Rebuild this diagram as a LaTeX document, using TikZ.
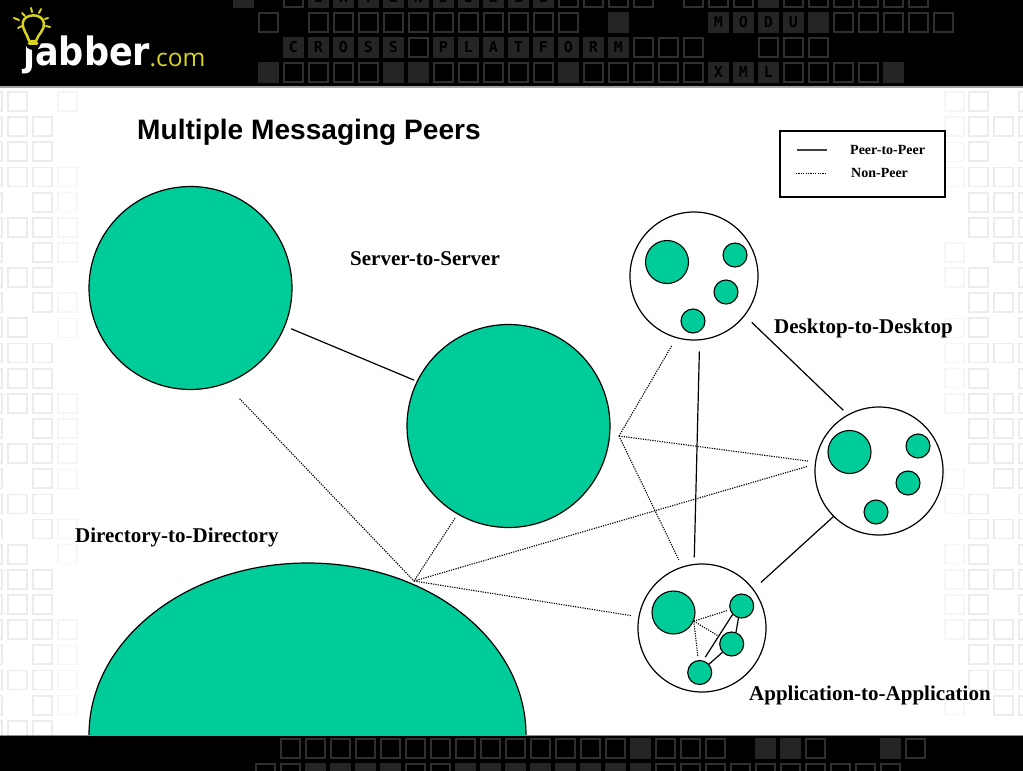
\documentclass[tikz,border=0pt]{standalone}
\usepackage{fontspec}
\setmainfont{Liberation Serif}
\newfontfamily\titlefont{Liberation Sans}
\newfontfamily\logofont[FakeStretch=.9]{DejaVu Sans}
\newfontfamily\logosmall{Open Sans}
\newfontfamily\tilefont{DejaVu Sans Mono}
\usetikzlibrary{shapes.geometric}
\definecolor{teal}{RGB}{0,204,153}
\definecolor{tilegray}{RGB}{47,47,47}
\definecolor{sidegray}{RGB}{236,236,236}
\definecolor{sidefaint}{RGB}{246,246,246}
\definecolor{bulb}{RGB}{216,212,28}
\tikzset{
  bigdisc/.style={circle, draw=black, fill=teal, line width=1.2pt, inner sep=0pt, minimum size=203pt},
  room/.style={circle, draw=black, fill=white, line width=1.2pt, inner sep=0pt, minimum size=128pt},
  midpeer/.style={circle, draw=black, fill=teal, line width=1.1pt, inner sep=0pt, minimum size=43pt},
  smallpeer/.style={circle, draw=black, fill=teal, line width=1.1pt, inner sep=0pt, minimum size=24pt},
  peer/.style={draw=black, line width=1.2pt},
  nonpeer/.style={draw=black, line width=1.1pt, dash pattern=on 1.2pt off 1.2pt},
  grouplabel/.style={font=\bfseries\fontsize{21}{24}\selectfont, inner sep=0pt},
  keylabel/.style={font=\bfseries\fontsize{14}{16}\selectfont, inner sep=0pt},
  tileopen/.style={draw=tilegray, line width=1.8pt},
  tileshut/.style={fill=tilegray!105!white},
  tileletter/.style={font=\tilefont\bfseries\fontsize{15}{15}\selectfont, text=black, inner sep=0pt},
}
\newcommand{\hdropen}[2]{\foreach \k in {#2} \draw[tileopen] (259+25*\k,#1) rectangle ++(19,19);}
\newcommand{\hdrshut}[2]{\foreach \k in {#2} \fill[tileshut] (258+25*\k,#1-1) rectangle ++(21,21);}
\newcommand{\ftropen}[2]{\foreach \k in {#2} \draw[tileopen] (256+25*\k,#1) rectangle ++(19,19);}
\newcommand{\ftrshut}[2]{\foreach \k in {#2} \fill[tileshut] (255+25*\k,#1-1) rectangle ++(21,21);}

\begin{document}
\begin{tikzpicture}[x=1pt, y=-1pt]
    \useasboundingbox (0,0) rectangle (1023,771);
    \fill[white] (0,0) rectangle (1023,771);

    % Side tiles
    \foreach \r/\cols in {0/{-17,8},1/{-17,8,33},2/{-17,8,33},3/{-17,8,33},4/{-17,33},5/{-17,8,33},6/{-17,33},
        7/{-17,8,33},8/{-17,33},9/{-17,8},10/{-17,8,33},11/{-17,8,33},12/{-17,8,33},13/{-17,33},14/{-17,8,33},
        15/{-17,33},16/{-17,8,33},17/{-17,33},18/{-17,8},19/{-17,8,33},20/{-17,8,33},21/{-17,8,33},22/{-17,33},
        23/{-17,8,33},24/{-17,33},25/{-17,8,33}}
        \foreach \c in \cols \draw[sidegray, line width=1.8pt] (\c,92+25.15*\r) rectangle ++(19,19);
    \foreach \r in {0,3,4,5,6,8,9,12,13,14,15,17,18,21,22,23,24}
        \draw[sidefaint, line width=1.5pt] (58,92+25.15*\r) rectangle ++(19,19);
    \foreach \r/\cols in {0/{969,1019},1/{969,994,1019},2/{969,1019},3/{969,994,1019},4/{969,994,1019},
        5/{969,994,1019},6/{994,1019},7/{969,1019},8/{969,994,1019},9/{969,1019},10/{969,994,1019},11/{969,1019},
        12/{969,994,1019},13/{969,994,1019},14/{969,994,1019},15/{994,1019},16/{969,1019},17/{969,994,1019},
        18/{969,1019},19/{969,994,1019},20/{969,1019},21/{969,994,1019},22/{969,994,1019},23/{969,994,1019},24/{994,1019}}
        \foreach \c in \cols \draw[sidegray, line width=1.8pt] (\c,92+25.15*\r) rectangle ++(19,19);
    \foreach \r in {0,1,2,3,6,7,9,10,11,12,15,16,18,19,20,21,24}
        \draw[sidefaint, line width=1.5pt] (945,92+25.15*\r) rectangle ++(19,19);

    % Header band
    \fill[black] (0,0) rectangle (1023,86);
    \fill[black!35] (0,86) rectangle (1023,87.5);
    \hdrshut{-12}{-1,2,3,4,5,6,7,8,9,10,11,20}
    \hdropen{-12}{1,12,13,14,15,17,18,19,21,22,23,24,25,26}
    \hdropen{13}{0,2,3,4,5,6,7,8,9,10,11,12,23,24,25,26,27}
    \hdrshut{13}{14,18,19,20,21,22}
    \hdrshut{38}{1,2,3,4,5,7,8,9,10,11,12,13,14}
    \hdropen{38}{6,15,16,17,20,21,22}
    \hdrshut{63}{0,5,6,12,18,19,20,25}
    \hdropen{63}{1,2,3,4,7,8,9,10,11,13,14,15,16,17,21,22,23,24}
    \foreach \k/\ch in {2/E,3/X,4/T,5/E,6/N,7/S,8/I,9/B,10/L,11/E}
        \node[tileletter] (top\k) at (268.5+25*\k,-2.5) {\ch};
    \foreach \k/\ch in {18/M,19/O,20/D,21/U}
        \node[tileletter] (mod\k) at (268.5+25*\k,22.5) {\ch};
    \foreach \k/\ch in {1/C,2/R,3/O,4/S,5/S,7/P,8/L,9/A,10/T,11/F,12/O,13/R,14/M}
        \node[tileletter] (cross\k) at (268.5+25*\k,47.5) {\ch};
    \foreach \k/\ch in {18/X,19/M,20/L}
        \node[tileletter] (xml\k) at (268.5+25*\k,72.5) {\ch};

    % Logo
    \node[anchor=base west, inner sep=0pt, text=white, font=\logofont\bfseries\fontsize{39}{39}\selectfont] (logoname) at (23,65.5) {jabber};
    \node[anchor=base west, inner sep=0pt, text=bulb, font=\logosmall\fontsize{24.5}{25}\selectfont] (logodom) at (149.5,66.5) {.com};
    \fill[black] (33,42) circle (8);
    \draw[bulb, line width=2.5pt, line join=round] (29,41) .. controls (27,33) and (22,30) .. (23,22)
        .. controls (24,14) and (42,12) .. (44,23) .. controls (45,30) and (38,34) .. (36,41) -- cycle;
    \draw[bulb, line width=3pt, line cap=round] (29,43) -- (37,43);
    \foreach \xa/\ya/\xb/\yb in {31/8/32/12, 41/9/39/13, 48/18/45/19, 50/27/46/26, 14/18/19/20, 18/28/22/26, 22/13/25/16}
        \draw[bulb, line width=2pt, line cap=round] (\xa,\ya) -- (\xb,\yb);

    % Title and legend
    \node[anchor=base west, inner sep=0pt, font=\titlefont\bfseries\fontsize{28.1}{30}\selectfont] (title) at (137,139) {Multiple Messaging Peers};
    \node[draw=black, fill=white, line width=1.3pt, inner sep=0pt, minimum width=165pt, minimum height=66pt] (legend) at (862.5,164) {};
    \coordinate (keyA) at (797,150);
    \coordinate (keyB) at (827,150);
    \coordinate (keyC) at (796,173);
    \coordinate (keyD) at (827,173);
    \draw[peer, black!75] (keyA) -- (keyB);
    \draw[nonpeer, line width=.8pt] (keyC) -- (keyD);
    \node[keylabel, anchor=west] (peerkey) at (850,150) {Peer-to-Peer};
    \node[keylabel, anchor=west] (nonkey) at (851,173) {Non-Peer};

    % Directory and server discs
    \node[bigdisc] (srvA) at (190.5,288) {};
    \node[bigdisc] (srvB) at (508.5,426) {};
    \begin{scope}
        \clip (0,87) rectangle (1023,735);
        \node[ellipse, draw=black, fill=teal, line width=1.2pt, inner sep=0pt, minimum width=437pt, minimum height=344pt] (dirB) at (307.5,735) {};
    \end{scope}

    % Desktop rooms
    \node[room] (deskA) at (694,276) {};
    \node[midpeer] (deskAm) at (667,262) {};
    \node[smallpeer] (deskAa) at (735,255) {};
    \node[smallpeer] (deskAb) at (726,292) {};
    \node[smallpeer] (deskAc) at (693,321) {};
    \node[room] (deskB) at (879,471) {};
    \node[midpeer] (deskBm) at (849.5,452) {};
    \node[smallpeer] (deskBa) at (918,446) {};
    \node[smallpeer] (deskBb) at (908,483) {};
    \node[smallpeer] (deskBc) at (876,512) {};

    % Application room
    \node[room] (app) at (702,628) {};
    \node[midpeer] (appm) at (673.5,612.5) {};
    \node[smallpeer] (appa) at (741.7,606) {};
    \node[smallpeer] (appb) at (731.7,644) {};
    \node[smallpeer] (appc) at (699.7,672.5) {};
    \draw[nonpeer, shorten >=3pt] (appm.-23) -- (appa);
    \draw[nonpeer, shorten >=3pt] (appm.-23) -- (appb);
    \draw[nonpeer, shorten >=3pt] (appm.-23) -- (appc);
    \draw[peer, shorten >=4pt] (appa.-137) -- (appc.74);
    \draw[peer] (appa.-105) -- (appb.70);
    \draw[peer] (appb) -- (appc);

    % Peer links
    \coordinate (hubA) at (414,581);
    \coordinate (hubB) at (619,436);
    \draw[peer, shorten <=6.5pt, shorten >=3pt] (srvA.-22) -- (srvB.154);
    \draw[peer, shorten <=9.5pt, shorten >=6pt] (deskA.-38) -- (deskB.119);
    \draw[peer, shorten <=11pt, shorten >=6.5pt] (deskA.-85) -- (app.97);
    \draw[peer, shorten >=10pt] (deskB.-135) -- (app.37);

    % Non-peer links
    \draw[nonpeer, shorten <=20.5pt] (srvA.-70) -- (hubA);
    \draw[nonpeer, shorten <=4.5pt] (srvB.-120) -- (hubA);
    \draw[nonpeer, shorten >=7pt] (hubA) -- (deskB.174);
    \draw[nonpeer, shorten >=7pt] (hubA) -- (app.170);
    \draw[nonpeer, shorten >=8pt] (hubB) -- (deskA.-106);
    \draw[nonpeer, shorten >=7pt] (hubB) -- (deskB.172);
    \draw[nonpeer, shorten >=7.5pt] (hubB) -- (app.108);

    % Group labels
    \node[grouplabel, anchor=west] (lblsrv) at (350,259) {Server-to-Server};
    \node[grouplabel, anchor=west] (lbldesk) at (774,328) {Desktop-to-Desktop};
    \node[grouplabel, anchor=west] (lbldir) at (75,537) {Directory-to-Directory};
    \node[grouplabel, anchor=west] (lblapp) at (749,695) {Application-to-Application};

    % Footer band
    \fill[black] (0,735) rectangle (1023,771);
    \fill[black!45] (0,735) rectangle (1023,736);
    \ftropen{739}{1,2,3,4,5,6,7,8,9,10,11,12,13,14,16,17,18,22,26}
    \ftrshut{739}{15,20,21,25}
    \ftropen{764}{0,1,6,7,16,17,18,19,20,21,22,23,24,25}
    \ftrshut{764}{2,3,4,5,8,9,10,11,12,13,14,15}
\end{tikzpicture}
\end{document}
